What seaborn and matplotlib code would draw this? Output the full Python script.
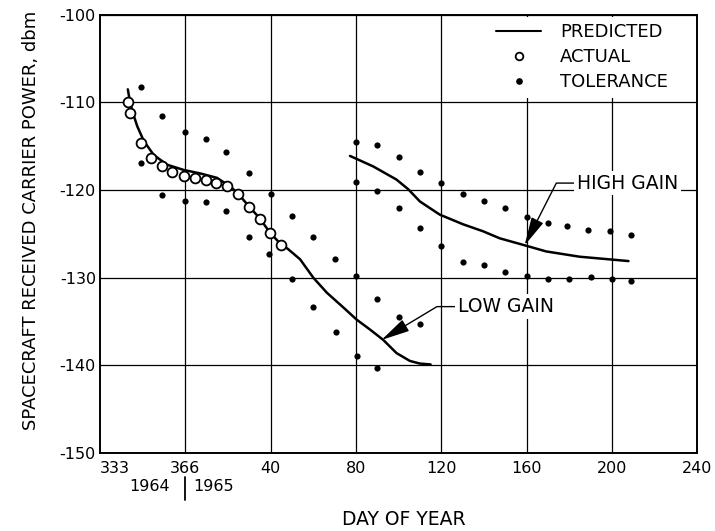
import pandas as pd
import seaborn as sns
import matplotlib.pyplot as plt
import matplotlib.transforms as mtransforms
from matplotlib.lines import Line2D

# day axis: days after day 366 of 1964 (so 333 -> -33, 1965 day 40 -> 40)
low_pred_x = [-27.0, -26.5, -25.0, -22.6, -19.5, -14.8, -8.6, -0.8, 7.0, 14.8, 21.1,
              24.7, 29.6, 34.8, 39.5, 44.8, 48.0, 53.8, 60.0, 66.3, 74.1, 80.4,
              86.5, 92.8, 99.0, 105.3, 110.0, 115.0]
low_pred_y = [-108.5, -109.2, -110.9, -112.7, -114.4, -116.0, -117.1, -117.7, -118.1, -118.6, -119.6,
              -120.4, -121.8, -123.2, -124.8, -126.2, -126.7, -127.9, -130.0, -131.7, -133.4, -134.8,
              -135.9, -137.1, -138.6, -139.5, -139.8, -139.9]

high_pred_x = [77.2, 88.1, 99.0, 104.5, 110.0, 119.3, 130.2, 139.6, 147.4, 159.1, 169.2, 184.8, 207.8]
high_pred_y = [-116.1, -117.3, -118.8, -119.9, -121.3, -122.8, -123.9, -124.7, -125.5, -126.3,
               -127.0, -127.6, -128.1]

actual_x = [-27.0, -26.2, -20.7, -15.9, -11.2, -6.2, -0.5, 4.4, 9.5, 14.3, 19.5, 24.7, 29.6, 34.8, 39.5, 44.8]
actual_y = [-109.9, -111.2, -114.6, -116.3, -117.2, -117.9, -118.4, -118.6, -118.9, -119.2, -119.5,
            -120.5, -121.9, -123.3, -124.9, -126.3]

tol_low_upper_x = [-21, -11, 0, 9.5, 19, 30, 40, 50, 60, 70, 80, 90, 100, 110]
tol_low_upper_y = [-108.2, -111.5, -113.4, -114.2, -115.6, -118.0, -120.4, -122.9, -125.3, -127.9,
                   -129.8, -132.4, -134.5, -135.3]
tol_low_lower_x = [-21, -11, 0, 9.5, 19, 30, 39, 50, 60, 70.6, 80.6, 90]
tol_low_lower_y = [-116.9, -120.6, -121.3, -121.4, -122.4, -125.3, -127.3, -130.1, -133.3, -136.2,
                   -138.9, -140.3]
tol_high_upper_x = [80, 90, 100, 110, 120, 130, 140, 150, 160, 170, 179, 189, 199, 209]
tol_high_upper_y = [-114.5, -114.8, -116.2, -117.9, -119.2, -120.4, -121.3, -122.0, -123.1, -123.8,
                    -124.1, -124.5, -124.7, -125.1]
tol_high_lower_x = [80, 90, 100, 110, 120, 130, 140, 150, 160, 170, 180, 190, 200, 209]
tol_high_lower_y = [-119.1, -120.1, -122.0, -124.3, -126.4, -128.2, -128.6, -129.3, -129.8, -130.1,
                    -130.1, -129.9, -130.1, -130.4]

x_tick_pos = [-33, 0, 40, 80, 120, 160, 200, 240]
x_tick_labels = ['333', '366', '40', '80', '120', '160', '200', '240']
x_grid = [0, 40, 80, 120, 160, 200]
y_ticks = [-150, -140, -130, -120, -110, -100]

sns.set_style('white')
plt.rcParams['font.family'] = ['DejaVu Sans']
plt.rcParams['axes.unicode_minus'] = False
for key in ['text.color', 'axes.labelcolor', 'xtick.color', 'ytick.color']:
    plt.rcParams[key] = 'black'

fig = plt.figure(figsize=(7.15, 5.31), dpi=100)
ax = fig.add_axes([0.14, 0.147, 0.835, 0.825])

sns.lineplot(x=low_pred_x, y=low_pred_y, sort=False, estimator=None, color='black', lw=1.8, ax=ax)
sns.lineplot(x=high_pred_x, y=high_pred_y, sort=False, estimator=None, color='black', lw=1.8, ax=ax)

tol = pd.DataFrame({
    'day': tol_low_upper_x + tol_low_lower_x + tol_high_upper_x + tol_high_lower_x,
    'dbm': tol_low_upper_y + tol_low_lower_y + tol_high_upper_y + tol_high_lower_y,
})
sns.scatterplot(data=tol, x='day', y='dbm', color='black', s=20, linewidth=0, ax=ax, zorder=4)
sns.scatterplot(x=actual_x, y=actual_y, marker='o', facecolor='white', edgecolor='black',
                linewidth=1.3, s=50, ax=ax, zorder=5)

ax.set_xlim(-40, 240)
ax.set_ylim(-150, -100)
ax.set_xticks(x_tick_pos)
ax.set_xticklabels(x_tick_labels, fontsize=11.5)
ax.set_yticks(y_ticks)
ax.set_yticklabels([str(v) for v in y_ticks], fontsize=11.5)
ax.tick_params(axis='x', length=0, pad=6)
ax.tick_params(axis='y', length=0, pad=3)
ax.grid(axis='y', color='black', lw=0.9)
for gx in x_grid:
    ax.axvline(gx, color='black', lw=0.9, zorder=0.5)
for sp in ax.spines.values():
    sp.set_color('black')
    sp.set_linewidth(1.4)
    sp.set_zorder(6)

ax.set_xlabel('DAY OF YEAR', fontsize=13.5)
ax.xaxis.set_label_coords(0.509, -0.13)
ax.set_ylabel('SPACECRAFT RECEIVED CARRIER POWER, dbm', fontsize=13)
ax.yaxis.set_label_coords(-0.1, 0.53)

blend = mtransforms.blended_transform_factory(ax.transData, ax.transAxes)
ax.text(-16.8, -0.077, '1964', transform=blend, ha='center', va='center', fontsize=11.5)
ax.text(13.1, -0.077, '1965', transform=blend, ha='center', va='center', fontsize=11.5)
ax.plot([0, 0], [-0.055, -0.108], transform=blend, color='black', lw=1.3, clip_on=False)

handles = [
    Line2D([], [], color='black', lw=1.5),
    Line2D([], [], marker='o', ls='none', mfc='white', mec='black', mew=1.3, ms=5.5),
    Line2D([], [], marker='o', ls='none', color='black', ms=3.8),
]
leg = ax.legend(handles, ['PREDICTED', 'ACTUAL', 'TOLERANCE'], loc='upper right',
                bbox_to_anchor=(0.962, 0.996), frameon=True, facecolor='white', edgecolor='none',
                framealpha=1, fancybox=False, handlelength=2.5, handletextpad=1.05,
                labelspacing=0.4, borderaxespad=0, borderpad=0.35, fontsize=13)

arrow = dict(arrowstyle='-|>,head_length=1.3,head_width=0.3', color='black', lw=1,
             shrinkA=0, shrinkB=0, relpos=(0, 0.5))
ax.annotate('HIGH GAIN', xy=(159.1, -126.3), xytext=(183.5, -119.2), ha='left', va='center',
            fontsize=13.5, bbox=dict(boxstyle='square,pad=0.15', fc='white', ec='none'),
            arrowprops=dict(arrow, connectionstyle='angle,angleA=180,angleB=63,rad=0'))
ax.annotate('LOW GAIN', xy=(92, -137.1), xytext=(127.8, -133.3), ha='left', va='center',
            fontsize=13.5, bbox=dict(boxstyle='square,pad=0.15', fc='white', ec='none'),
            arrowprops=dict(arrow, connectionstyle='angle,angleA=180,angleB=31,rad=0'))

fig.savefig('out.png', dpi=100)
